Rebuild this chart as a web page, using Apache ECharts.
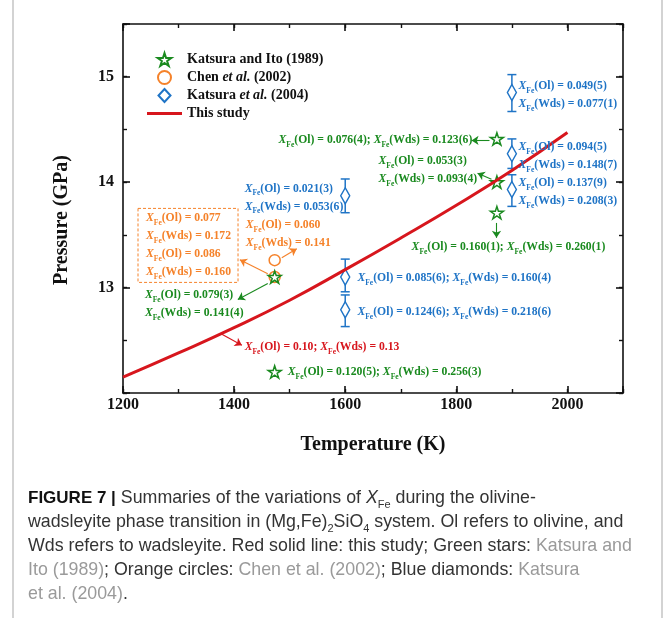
<!DOCTYPE html>
<html>
<head>
<meta charset="utf-8">
<script src="https://cdn.jsdelivr.net/npm/echarts@6/dist/echarts.min.js"></script>
<style>html,body{margin:0;padding:0;background:#fff}#c{width:665px;height:618px}</style>
</head>
<body>
<div id="c"></div>
<script>
// ---------------- DATA ----------------
const xTickLabels = [1200, 1400, 1600, 1800, 2000];
const yTickLabels = [13, 14, 15];

// This study (red line)
const studyT = [1200, 1300, 1400, 1500, 1600, 1700, 1800, 1900, 2000];
const studyP = [12.15, 12.38, 12.62, 12.88, 13.17, 13.47, 13.78, 14.11, 14.47];

// Katsura and Ito (1989) – green stars
const katsuraItoT = [1473, 1873, 1873, 1873, 1473];
const katsuraItoP = [13.10, 14.41, 14.00, 13.71, 12.20];

// Chen et al. (2002) – orange circles
const chenT = [1473, 1473];
const chenP = [13.26, 13.10];

// Katsura et al. (2004) – blue diamonds with error bars
const katsura04T = [1600, 1600, 1600, 1900, 1900, 1900];
const katsura04P = [13.87, 13.10, 12.79, 14.85, 14.27, 13.93];
const katsura04Lo = [13.71, 12.96, 12.63, 14.67, 14.13, 13.77];
const katsura04Hi = [14.03, 13.27, 12.93, 15.02, 14.41, 14.07];

// Annotation anchors (data coords) and texts
const annoT = [1912, 1912, 1912, 1419, 1622, 1622, 1480, 1660, 1719.5, 1239.5, 1496.6, 1421, 1227, 1419];
const annoP = [14.825, 14.25, 13.91, 13.854, 13.094, 12.764, 14.396, 14.113, 13.387, 12.844, 12.198, 13.509, 13.40, 12.434];
const annoColor = ['b','b','b','b','b','b','g','g','g','g','g','o','o','r'];
const annoText = [
  [['Ol','0.049(5)'],['Wds','0.077(1)']],
  [['Ol','0.094(5)'],['Wds','0.148(7)']],
  [['Ol','0.137(9)'],['Wds','0.208(3)']],
  [['Ol','0.021(3)'],['Wds','0.053(6)']],
  [['Ol','0.085(6)','Wds','0.160(4)']],
  [['Ol','0.124(6)','Wds','0.218(6)']],
  [['Ol','0.076(4)','Wds','0.123(6)']],
  [['Ol','0.053(3)'],['Wds','0.093(4)']],
  [['Ol','0.160(1)','Wds','0.260(1)']],
  [['Ol','0.079(3)'],['Wds','0.141(4)']],
  [['Ol','0.120(5)','Wds','0.256(3)']],
  [['Ol','0.060'],['Wds','0.141']],
  [['Ol','0.077'],['Wds','0.172'],['Ol','0.086'],['Wds','0.160']],
  [['Ol','0.10','Wds','0.13']]
];
// Arrows (data coords): start T, start P, end T, end P
const arrowT1 = [1859.7, 1863.3, 1872.3, 1460.6, 1485.8, 1460.6, 1378];
const arrowP1 = [14.396, 14.028, 13.613, 13.038, 13.283, 13.132, 12.557];
const arrowT2 = [1827.4, 1838.2, 1872.3, 1406.7, 1512.8, 1410.3, 1414];
const arrowP2 = [14.396, 14.085, 13.472, 12.887, 13.368, 13.264, 12.453];
const arrowColor = ['g','g','g','g','o','o','r'];

// ---------------- STYLE ----------------
const COL = {g:'#1a8a1f', o:'#f5822a', b:'#1f74c6', r:'#d7161d'};
const SERIF = '"Liberation Serif","Times New Roman",serif';
const SANS = '"Liberation Sans",Arial,sans-serif';
const STAR = 'path://M50,2 L61.2,36.5 L97.6,36.5 L68.2,57.9 L79.4,92.4 L50,71.1 L20.6,92.4 L31.8,57.9 L2.4,36.5 L38.8,36.5 Z';
const DIAMOND = 'path://M6,0 L12,8 L6,16 L0,8 Z';
const DIAMOND_LEG = 'path://M6,0 L12,6.5 L6,13 L0,6.5 Z';
const LINEICON = 'path://M0,0 L36,0 L36,3 L0,3 Z';
const FS = 11.7;

function rich(c){
  return {
    x:{fontFamily:SERIF,fontStyle:'italic',fontWeight:'bold',fontSize:FS,color:c,lineHeight:18},
    s:{fontFamily:SERIF,fontWeight:'bold',fontSize:7.5,color:c,lineHeight:8,verticalAlign:'bottom'},
    t:{fontFamily:SERIF,fontWeight:'bold',fontSize:FS,color:c,lineHeight:18}
  };
}
function fmtLine(parts){
  let s = '';
  for (let i = 0; i < parts.length; i += 2) {
    if (i > 0) s += '{t|; }';
    s += '{x|X}{s|Fe}{t|(' + parts[i] + ') = ' + parts[i+1] + '}';
  }
  return s;
}
const annoData = annoT.map((t, i) => {
  const c = COL[annoColor[i]];
  const lbl = {
    show:true, position:'right', distance:0,
    formatter: annoText[i].map(fmtLine).join('\n'),
    rich: rich(c), color:c, opacity:1
  };
  if (i === 12) {
    Object.assign(lbl, {borderColor:c, borderType:[3,2], borderWidth:1, padding:[1,7,1,8]});
  }
  return {value:[t, annoP[i]], label:lbl};
});
const arrowData = arrowT1.map((t, i) => ({
  coords:[[t, arrowP1[i]],[arrowT2[i], arrowP2[i]]],
  lineStyle:{color:COL[arrowColor[i]], width:1.1, opacity:1}
}));

const axisCommon = {
  min:1200, max:2100, type:'value',
  splitLine:{show:false},
  axisLine:{show:true, onZero:false, lineStyle:{color:'#111', width:1.6}},
};
const yCommon = {
  min:12, max:15.5, type:'value',
  splitLine:{show:false},
  axisLine:{show:true, onZero:false, lineStyle:{color:'#111', width:1.6}},
};
const tickMajor = {show:true, inside:true, length:7, lineStyle:{color:'#111', width:1.6}};
const tickMinor = {show:true, inside:true, length:4, lineStyle:{color:'#111', width:1.4}};

const option = {
  backgroundColor:'#fff',
  animation:false,
  grid:{left:123, right:42, top:24, bottom:225, outerBoundsMode:'none'},
  xAxis:[
    Object.assign({}, axisCommon, {position:'bottom', interval:200, axisTick:tickMajor,
      axisLabel:{show:true, margin:4, fontFamily:SERIF, fontWeight:'bold', fontSize:16, color:'#111',
        formatter:v => xTickLabels.indexOf(v) >= 0 ? String(v) : ''},
      name:'Temperature (K)', nameLocation:'middle', nameGap:42,
      nameTextStyle:{fontFamily:SERIF, fontWeight:'bold', fontSize:20, color:'#111'}}),
    Object.assign({}, axisCommon, {position:'bottom', interval:100, axisTick:tickMinor, axisLine:{show:false}, axisLabel:{show:false}}),
    Object.assign({}, axisCommon, {position:'top', interval:200, axisTick:tickMajor, axisLabel:{show:false}}),
    Object.assign({}, axisCommon, {position:'top', interval:100, axisTick:tickMinor, axisLine:{show:false}, axisLabel:{show:false}})
  ],
  yAxis:[
    Object.assign({}, yCommon, {position:'left', interval:1, axisTick:tickMajor,
      axisLabel:{show:true, margin:9, fontFamily:SERIF, fontWeight:'bold', fontSize:16, color:'#111',
        formatter:v => yTickLabels.indexOf(v) >= 0 ? String(v) : ''}}),
    Object.assign({}, yCommon, {position:'left', interval:0.5, axisTick:tickMinor, axisLine:{show:false}, axisLabel:{show:false}}),
    Object.assign({}, yCommon, {position:'right', interval:1, axisTick:tickMajor, axisLabel:{show:false}}),
    Object.assign({}, yCommon, {position:'right', interval:0.5, axisTick:tickMinor, axisLine:{show:false}, axisLabel:{show:false}})
  ],
  legend:{
    orient:'vertical', left:147, top:52, padding:0, itemWidth:35, itemHeight:13, itemGap:3,
    symbolKeepAspect:true,
    data:[
      {name:'Katsura and Ito (1989)', icon:STAR},
      {name:'Chen et al. (2002)', icon:'circle'},
      {name:'Katsura et al. (2004)', icon:DIAMOND_LEG},
      {name:'This study', icon:LINEICON}
    ],
    formatter:n => n.replace('et al.', '{it|et al.}'),
    textStyle:{fontFamily:SERIF, fontWeight:'bold', fontSize:14, color:'#111', lineHeight:15,
      rich:{it:{fontFamily:SERIF, fontWeight:'bold', fontStyle:'italic', fontSize:14, color:'#111', lineHeight:15}}}
  },
  series:[
    {
      type:'custom', name:'errbar', z:2, silent:true,
      data: katsura04T.map((t,i)=>[t, katsura04P[i], katsura04Lo[i], katsura04Hi[i]]),
      encode:{x:0, y:1},
      renderItem:(params, api) => {
        const x = api.value(0);
        const a = api.coord([x, api.value(3)]);
        const b = api.coord([x, api.value(2)]);
        const w = 4.5;
        const st = {stroke:COL.b, lineWidth:1.5};
        return {type:'group', children:[
          {type:'line', shape:{x1:a[0],y1:a[1],x2:b[0],y2:b[1]}, style:st},
          {type:'line', shape:{x1:a[0]-w,y1:a[1],x2:a[0]+w,y2:a[1]}, style:st},
          {type:'line', shape:{x1:b[0]-w,y1:b[1],x2:b[0]+w,y2:b[1]}, style:st}
        ]};
      }
    },
    {
      type:'scatter', name:'Katsura et al. (2004)', z:3, symbol:DIAMOND, symbolSize:[12,16], symbolKeepAspect:true,
      itemStyle:{color:'#fff', borderColor:COL.b, borderWidth:1.5, opacity:1},
      data: katsura04T.map((t,i)=>[t, katsura04P[i]])
    },
    {
      type:'scatter', name:'Chen et al. (2002)', z:3, symbol:'circle', symbolSize:11, symbolKeepAspect:true,
      itemStyle:{color:'rgba(255,255,255,0)', borderColor:COL.o, borderWidth:1.5, opacity:1},
      data: chenT.map((t,i)=>[t, chenP[i]])
    },
    {
      type:'scatter', name:'Katsura and Ito (1989)', z:4, symbol:STAR, symbolSize:13, symbolKeepAspect:true,
      itemStyle:{color:'rgba(255,255,255,0)', borderColor:COL.g, borderWidth:1.5, opacity:1},
      data: katsuraItoT.map((t,i)=>[t, katsuraItoP[i]])
    },
    {
      type:'line', name:'This study', z:5, smooth:true, symbol:'none',
      lineStyle:{color:COL.r, width:3}, itemStyle:{color:COL.r},
      data: studyT.map((t,i)=>[t, studyP[i]])
    },
    {
      type:'lines', coordinateSystem:'cartesian2d', z:6, silent:true,
      symbol:['none','arrow'], symbolSize:7,
      lineStyle:{opacity:1},
      data: arrowData
    },
    {
      type:'scatter', name:'annotations', z:7, silent:true, symbolSize:0,
      itemStyle:{opacity:1},
      data: annoData
    }
  ],
  graphic:[
    {type:'line', shape:{x1:13,y1:0,x2:13,y2:618}, style:{stroke:'#c4c4c4', lineWidth:1.5}},
    {type:'line', shape:{x1:662,y1:0,x2:662,y2:618}, style:{stroke:'#c4c4c4', lineWidth:1.5}},
    {type:'text', x:62, y:220, rotation:Math.PI/2,
      style:{text:'Pressure (GPa)', fontFamily:SERIF, fontWeight:'bold', fontSize:20, fill:'#111', align:'center', verticalAlign:'middle'}}
  ]
};

// caption
const CF = 17.8;
const capRich = {
  b:{fontFamily:SANS, fontWeight:'bold', fontSize:17, fill:'#111', lineHeight:24},
  i:{fontFamily:SANS, fontStyle:'italic', fontSize:CF, fill:'#333', lineHeight:24},
  sub:{fontFamily:SANS, fontSize:11, fill:'#333', lineHeight:12, verticalAlign:'bottom'},
  n:{fontFamily:SANS, fontSize:CF, fill:'#333', lineHeight:24},
  g:{fontFamily:SANS, fontSize:CF, fill:'#9a9a9a', lineHeight:24}
};
const capLines = [
  '{b|FIGURE 7 |}{n| Summaries of the variations of }{i|X}{sub|Fe}{n| during the olivine-}',
  '{n|wadsleyite phase transition in (Mg,Fe)}{sub|2}{n|SiO}{sub|4}{n| system. Ol refers to olivine, and}',
  '{n|Wds refers to wadsleyite. Red solid line: this study; Green stars: }{g|Katsura and}',
  '{g|Ito (1989)}{n|; Orange circles: }{g|Chen et al. (2002)}{n|; Blue diamonds: }{g|Katsura}',
  '{g|et al. (2004)}{n|.}'
];
const capY = [498, 522, 546, 570, 594];
capLines.forEach((l, i) => {
  option.graphic.push({type:'text', x:28, y:capY[i], style:{text:l, rich:capRich, fontFamily:SANS, fontSize:CF, fill:'#333', verticalAlign:'middle'}});
});

const chart = echarts.init(document.getElementById('c'), null, {renderer:'canvas'});
chart.setOption(option);
</script>
</body>
</html>
